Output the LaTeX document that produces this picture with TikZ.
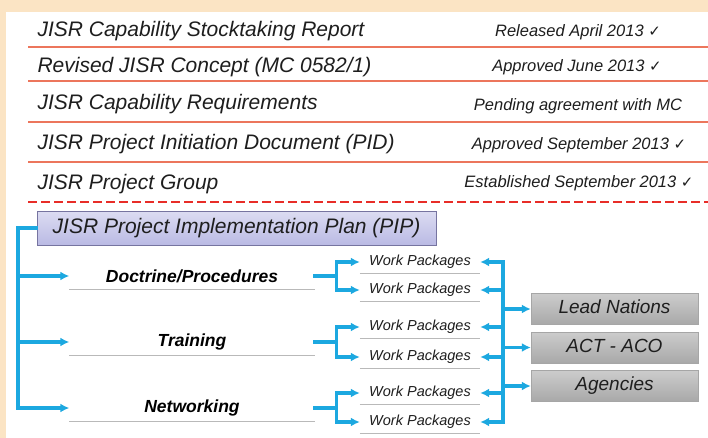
\documentclass[tikz,border=0pt]{standalone}
\usepackage{fontspec}
\setmainfont{Liberation Sans}
\newfontfamily\ticks{DejaVu Sans}
\usetikzlibrary{arrows.meta}

\definecolor{peach}{RGB}{251,228,196}
\definecolor{rule}{RGB}{236,118,92}
\definecolor{cut}{RGB}{232,45,40}
\definecolor{wire}{RGB}{28,168,224}
\definecolor{ink}{RGB}{30,30,30}
\definecolor{lilac}{RGB}{186,186,228}
\definecolor{lilacedge}{RGB}{118,116,160}

% check mark after a finished item
\newcommand{\done}{~{\ticks\fontsize{15}{15}\selectfont\char"2713}}

\tikzset{
  title/.style={anchor=west, text=ink, font=\itshape\fontsize{21}{24}\selectfont},
  status/.style={text=ink, font=\itshape\fontsize{16.5}{19}\selectfont},
  sep/.style={rule, line width=1.5pt},
  plan/.style={draw=lilacedge, line width=1pt, top color=lilac!50, bottom color=lilac,
    minimum width=399pt, minimum height=34pt, text=ink, font=\itshape\fontsize{21}{24}\selectfont},
  area/.style={fill=white, minimum width=245pt, minimum height=26pt, text=black,
    font=\bfseries\itshape\fontsize{17.5}{20}\selectfont},
  pack/.style={fill=white, minimum width=120pt, minimum height=22pt, text=ink,
    font=\itshape\fontsize{14.5}{16}\selectfont},
  party/.style={draw=gray!70, top color=gray!40, bottom color=gray!68,
    minimum width=167pt, minimum height=31pt, text height=0.9em, text depth=0pt,
    text=ink, font=\itshape\fontsize{19}{22}\selectfont},
  link/.style={wire, line width=3.2pt, line cap=rect},
  flow/.style={wire, line width=3.2pt, -{Latex[length=9pt,width=9pt]}},
}

\begin{document}
\begin{tikzpicture}[x=1pt,y=-1pt]
	\useasboundingbox (0,0) rectangle (708,438);
	\fill[peach] (0,0) rectangle (708,438);
	\fill[white] (6,12) rectangle (708,438);

	% milestones
	\node[title] (stock) at (34,31) {JISR Capability Stocktaking Report};
	\node[title] (concept) at (34,67) {Revised JISR Concept (MC 0582/1)};
	\node[title] (require) at (34,104) {JISR Capability Requirements};
	\node[title] (pid) at (34,144) {JISR Project Initiation Document (PID)};
	\node[title] (group) at (34,184) {JISR Project Group};

	\node[status] (stockstate) at (578,32) {Released April 2013\done};
	\node[status] (conceptstate) at (577,67) {Approved June 2013\done};
	\node[status] (requirestate) at (578,106) {Pending agreement with MC};
	\node[status] (pidstate) at (579,145) {Approved September 2013\done};
	\node[status] (groupstate) at (579,183) {Established September 2013\done};

	\foreach \y in {47,81,122,162}
		\draw[sep] (28,\y) -- (708,\y);
	\draw[cut, line width=2.6pt, dash pattern=on 9pt off 4pt] (28,202) -- (708,202);

	% implementation plan
	\node[plan] (pip) at (236.5,228) {JISR Project Implementation Plan (PIP)};

	\node[area] (doctrine) at (192,276) {Doctrine/Procedures};
	\node[area] (training) at (192,342) {Training};
	\node[area] (networking) at (192,408) {Networking};

	\node[pack] (wpa) at (420,262) {Work Packages};
	\node[pack] (wpb) at (420,290) {Work Packages};
	\node[pack] (wpc) at (420,327) {Work Packages};
	\node[pack] (wpd) at (420,357) {Work Packages};
	\node[pack] (wpe) at (420,393) {Work Packages};
	\node[pack] (wpf) at (420,422) {Work Packages};

	\node[party] (lead) at (614.5,309) {Lead Nations};
	\node[party] (actaco) at (614.5,347.5) {ACT - ACO};
	\node[party] (agencies) at (614.5,386) {Agencies};

	\foreach \n in {doctrine,training,networking,wpa,wpb,wpc,wpd,wpe,wpf}
		\draw[gray!55, line width=1.2pt] (\n.south west) -- (\n.south east);

	% connectors
	\coordinate (spine) at (18,228);
	\draw[link] (pip.west) -- (spine);
	\foreach \n in {doctrine,training,networking}
		\draw[flow] (spine) |- (\n.west);

	\foreach \n/\a/\b in {doctrine/wpa/wpb, training/wpc/wpd, networking/wpe/wpf} {
		\draw[link] (\n.east) -- ++(21.5,0) coordinate (fork);
		\draw[flow] (fork) |- (\a.west);
		\draw[flow] (fork) |- (\b.west);
	}

	\coordinate (rail) at (503,0);
	\draw[link] (wpa.east -| rail) -- (wpf.east -| rail);
	\foreach \n in {wpa,wpb,wpc,wpd,wpe,wpf}
		\draw[flow] (\n.east -| rail) -- (\n.east);
	\foreach \n in {lead,actaco,agencies}
		\draw[flow] (\n.west -| rail) -- (\n.west);
\end{tikzpicture}
\end{document}
